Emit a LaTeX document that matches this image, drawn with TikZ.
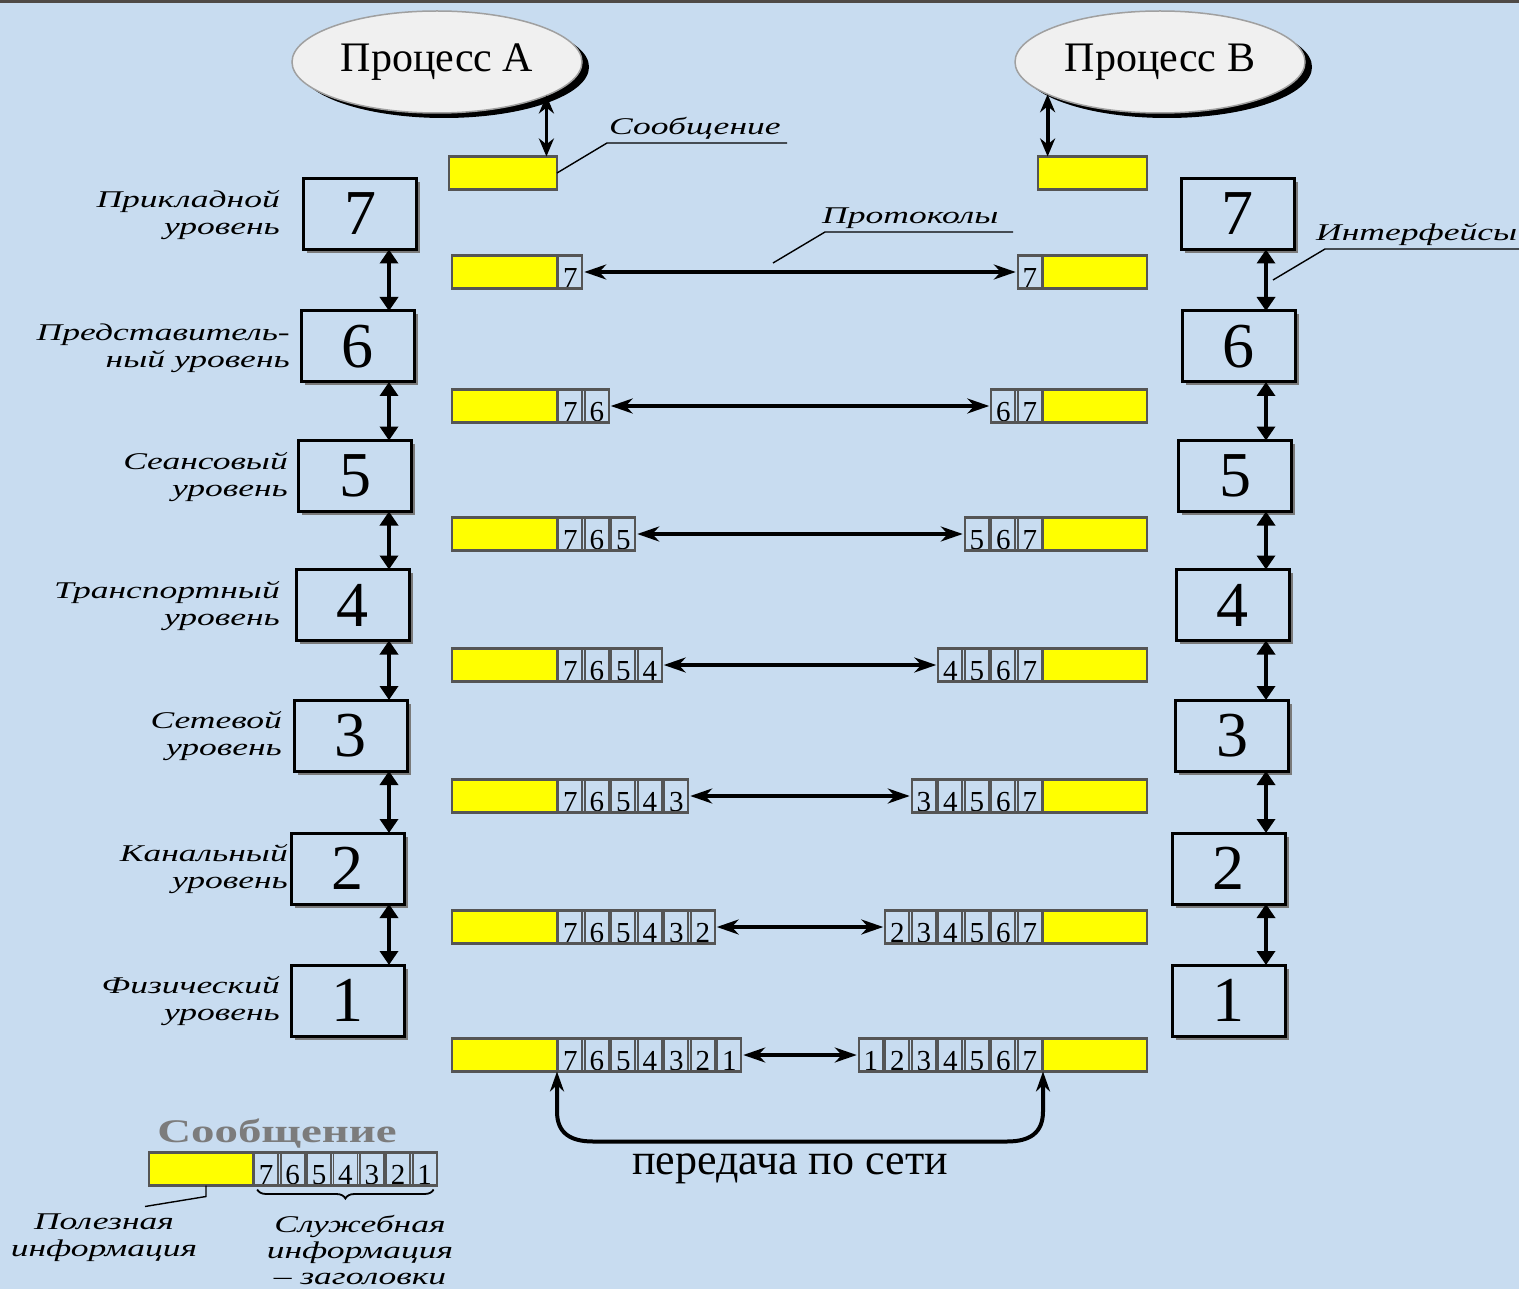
\documentclass[tikz,border=0pt]{standalone}
\usepackage{fontspec}
\setmainfont{Liberation Serif}
\newfontfamily\widefont[FakeStretch=1.48]{Liberation Serif}
\newfontfamily\widebold[FakeStretch=1.42]{Liberation Serif}
\usetikzlibrary{arrows.meta,shapes.geometric,calc,shadows,decorations.pathreplacing}
\definecolor{bg}{HTML}{C8DCF0}
\definecolor{topbar}{HTML}{4F4A46}
\definecolor{framegray}{HTML}{555555}
\definecolor{yel}{HTML}{FFFF00}
\definecolor{cloud}{HTML}{F0F0F0}
\definecolor{cloudedge}{HTML}{A0A0A0}
\definecolor{shadowgray}{HTML}{7A7A7A}
\definecolor{titlegray}{HTML}{7C7C7C}

\begin{document}
\begin{tikzpicture}[x=1pt,y=-1pt,
  process/.style={ellipse, draw=cloudedge, line width=1.5pt, fill=cloud,
    minimum width=290pt, minimum height=102pt, inner sep=0pt, outer sep=0pt,
    font=\fontsize{42}{42}\selectfont,
    drop shadow={shadow xshift=7pt, shadow yshift=-5pt, fill=black, opacity=1}},
  layer/.style={draw=black, line width=3pt, fill=bg, minimum width=113pt,
    minimum height=71pt, inner sep=0pt, outer sep=0pt,
    font=\fontsize{64}{64}\selectfont,
    drop shadow={shadow xshift=3.5pt, shadow yshift=-3.5pt, fill=shadowgray, opacity=1}},
  payload/.style={draw=framegray, line width=2.5pt, fill=yel, minimum width=104pt,
    minimum height=33pt, inner sep=0pt, outer sep=0pt},
  hcell/.style={draw=framegray, line width=1.8pt, fill=bg, minimum width=24pt,
    minimum height=33pt, text height=31pt, text depth=0pt, inner sep=0pt,
    outer sep=0pt, font=\fontsize{29}{29}\selectfont},
  frame/.style={draw=framegray, line width=2.2pt},
  layername/.style={font=\widefont\itshape\fontsize{24}{27}\selectfont,
    align=right, anchor=east, inner sep=0pt},
  tag/.style={font=\widefont\itshape\fontsize{24}{27}\selectfont, inner sep=0pt},
  leader/.style={draw=black, line width=1.4pt},
  proto/.style={line width=3.6pt, {Stealth[length=22pt,width=15pt]}-{Stealth[length=22pt,width=15pt]},
    shorten <=2pt, shorten >=2pt},
  iface/.style={line width=3.6pt, {Triangle[length=14pt,width=18pt]}-{Triangle[length=14pt,width=18pt]}},
  pipe/.style={line width=3.8pt, {Stealth[length=18pt,width=15pt]}-{Stealth[length=18pt,width=15pt]}},
  net/.style={line width=4pt, {Stealth[length=20pt,width=14pt]}-{Stealth[length=20pt,width=14pt]}}
]
% canvas
\useasboundingbox (0,0) rectangle (1519,1289);
\clip (0,0) rectangle (1519,1289);
\fill[bg] (0,0) rectangle (1519,1289);
\fill[topbar] (0,0) rectangle (1519,3);

% application processes
\node[process] (pA) at (437,62) {Процесс А};
\node[process] (pB) at (1160,62) {Процесс В};

% messages handed over by the processes
\node[payload, minimum width=108pt] (yA0) at (503,173) {};
\node[payload, minimum width=109pt] (yB0) at (1092.5,173) {};
\draw[pipe] (pA.-17) -- (pA.-17 |- yA0.north);
\draw[pipe] (pB.196) -- (pB.196 |- yB0.north);

% layer boxes of both stacks
\foreach \k/\xa/\xb/\y in {7/360/1237.5/214, 6/357.5/1238.5/346.5, 5/355/1235/476,
    4/352.5/1232.5/605, 3/350.5/1232/735.5, 2/347.5/1228.5/868.5, 1/347.5/1228.5/1000.5}{
  \node[layer] (LA\k) at (\xa,\y) {\k};
  \node[layer] (LB\k) at (\xb,\y) {\k};
}

% interfaces between neighbouring layers
\coordinate (axA) at (389,0);
\coordinate (axB) at (1266,0);
\foreach \k [evaluate=\k as \m using int(\k-1)] in {7,6,5,4,3,2}{
  \draw[iface] (LA\k.south -| axA) -- (LA\m.north -| axA);
  \draw[iface] (LB\k.south -| axB) -- (LB\m.north -| axB);
}

% layer names
\node[layername] (nm7) at (280,215) {Прикладной\\уровень};
\node[layername] (nm6) at (290,348) {Представитель-\\ный уровень};
\node[layername] (nm5) at (288,477) {Сеансовый\\уровень};
\node[layername] (nm4) at (280,606) {Транспортный\\уровень};
\node[layername] (nm3) at (282,736) {Сетевой\\уровень};
\node[layername] (nm2) at (288,869) {Канальный\\уровень};
\node[layername] (nm1) at (280,1001) {Физический\\уровень};

% message with headers on every layer
\foreach \k/\y in {7/272, 6/406, 5/534, 4/665, 3/796, 2/927, 1/1055}{
  \node[payload, minimum width=105pt] (yA\k) at (504.5,\y) {};
  \node[payload] (yB\k) at (1095,\y) {};
  \foreach \n in {1,...,7}{
    \ifnum\n<\k\else
      \node[hcell] (hA\k-\n) at ({557+(7-\n+0.5)*26.5},\y) {\n};
      \node[hcell] (hB\k-\n) at ({1043-(7-\n+0.5)*26.5},\y) {\n};
    \fi
  }
  \draw[frame] (yA\k.north east) rectangle (hA\k-\k.south east);
  \draw[frame] (hB\k-\k.south west) rectangle (yB\k.north west);
  \draw[proto] (hA\k-\k.east) -- (hB\k-\k.west);
}

% transmission through the network
\coordinate (nL) at ($(yA1.south east)+(0,40)$);
\coordinate (nLb) at ($(yA1.south east)+(36,70)$);
\coordinate (nR) at ($(yB1.south west)+(0,40)$);
\coordinate (nRb) at ($(yB1.south west)+(-36,70)$);
\draw[net] (yA1.south east) -- (nL) .. controls +(0,22) and +(-22,0) .. (nLb)
  -- (nRb) .. controls +(22,0) and +(0,22) .. (nR) -- (yB1.south west);
\node[font=\fontsize{44}{44}\selectfont, inner sep=0pt] (netlbl) at (790,1169) {передача по сети};

% callouts
\node[tag, anchor=base west] (tMsg) at (609,135) {Сообщение};
\coordinate (uMsg0) at ($(tMsg.base west)+(-2,8)$);
\coordinate (uMsg1) at ($(tMsg.base west)+(178,8)$);
\draw[leader] (yA0.east) -- (uMsg0) -- (uMsg1);

\node[tag, anchor=base west] (tProto) at (822,224) {Протоколы};
\coordinate (uPr0) at ($(tProto.base west)+(3,8)$);
\coordinate (uPr1) at ($(tProto.base west)+(191,8)$);
\coordinate (uPr2) at (773,263);
\draw[leader] (uPr2) -- (uPr0) -- (uPr1);

\node[tag, anchor=base west] (tIf) at (1316,241) {Интерфейсы};
\coordinate (uIf0) at ($(tIf.base west)+(9,8)$);
\coordinate (uIf1) at ($(tIf.base west)+(210,8)$);
\coordinate (uIf2) at (1273,280);
\draw[leader] (uIf2) -- (uIf0) -- (uIf1);

% legend: structure of a message
\node[font=\widebold\bfseries\fontsize{33}{33}\selectfont, text=titlegray, inner sep=0pt]
  (legTitle) at (277,1134) {Сообщение};
\node[payload] (yL) at (201,1169) {};
\foreach \n in {1,...,7}{
  \node[hcell] (hL-\n) at ({253+(7-\n+0.5)*26.4},1169) {\n};
}
\draw[frame] (yL.north east) rectangle (hL-1.south east);
\draw[line width=1.8pt, decorate, decoration={brace, mirror, amplitude=9pt}]
  ($(hL-7.south west)+(3,4)$) -- ($(hL-1.south east)+(-3,4)$);
\coordinate (legP) at ($(yL.south)+(5,11)$);
\coordinate (legQ) at ($(yL.south)+(-56,21)$);
\draw[leader] ($(yL.south)+(5,0)$) -- (legP) -- (legQ);
\node[tag, align=center] (legUse) at (104,1238) {Полезная\\информация};
\node[tag, align=center, font=\widefont\itshape\fontsize{24}{26}\selectfont]
  (legSrv) at (360,1250) {Служебная\\информация\\– заголовки};
\end{tikzpicture}
\end{document}
